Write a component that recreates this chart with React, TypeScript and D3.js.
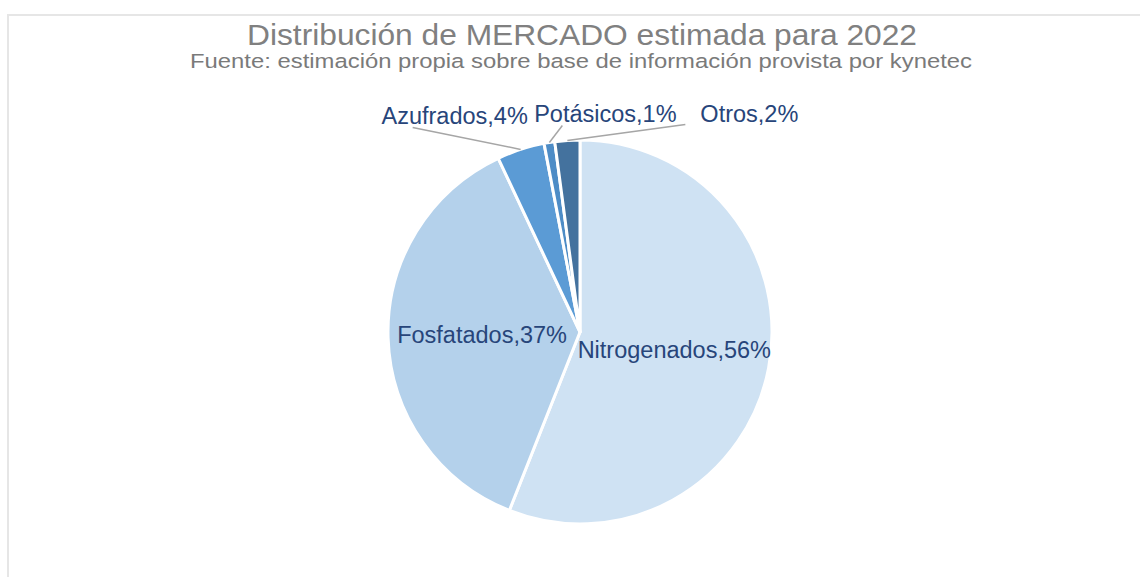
import React from "react";
import * as d3 from "d3";

const categories = ["Nitrogenados", "Fosfatados", "Azufrados", "Potásicos", "Otros"];
const values = [56.0, 37.0, 4.0, 0.9, 2.1];
const colors = ["#cfe2f3", "#b4d1eb", "#5b9bd5", "#4d8cc6", "#44729e"];

const TITLE = "Distribución de MERCADO estimada para 2022";
const SUBTITLE = "Fuente: estimación propia sobre base de información provista por kynetec";

const W = 1140;
const H = 577;
const CX = 580;
const CY = 332;
const R = 192;

// label layout: inside labels use centroid radius; outside labels use offsets from arc rim point
const labelLayout: Record<string, any> = {
  Nitrogenados: { inside: true, r: 96 },
  Fosfatados: { inside: true, r: 98 },
  Azufrados: { inside: false, dx: -66, dy: -33, lx: -108, ly: -22 },
  "Potásicos": { inside: false, dx: 56, dy: -28, lx: 13, ly: -17 },
  Otros: { inside: false, dx: 182, dy: -26, lx: 118, ly: -16 },
};

export default function App() {
  const data = categories.map((c, i) => ({ name: c, value: values[i], color: colors[i] }));
  const pie = d3.pie<any>().value((d) => d.value).sort(null);
  const arcs = pie(data);
  const arc = d3.arc<any>().innerRadius(0).outerRadius(R);
  const fmt = (v: number) => `${Math.round(v)}%`;
  const total = d3.sum(values);

  return (
    <svg
      width={W}
      height={H}
      style={{ position: "absolute", left: 0, top: 0, background: "#fff" }}
      fontFamily="'Liberation Sans', Arial, sans-serif"
    >
      <line x1={8} y1={15} x2={W} y2={15} stroke="#e6e6e6" strokeWidth={2} />
      <line x1={8} y1={14} x2={8} y2={H} stroke="#e6e6e6" strokeWidth={2} />
      <text x={582} y={45} textAnchor="middle" fontSize={30} fill="#808080" textLength={670} lengthAdjust="spacingAndGlyphs">
        {TITLE}
      </text>
      <text x={581} y={68} textAnchor="middle" fontSize={20.5} fill="#7a7a7a" textLength={782} lengthAdjust="spacingAndGlyphs">
        {SUBTITLE}
      </text>
      <g transform={`translate(${CX},${CY})`}>
        {arcs.map((a) => (
          <path key={a.data.name} d={arc(a) as string} fill={a.data.color} stroke="#fff" strokeWidth={3} strokeLinejoin="round" />
        ))}
        {arcs.map((a) => {
          const L = labelLayout[a.data.name];
          const mid = (a.startAngle + a.endAngle) / 2;
          const label = `${a.data.name},${fmt((a.data.value / total) * 100)}`;
          if (L.inside) {
            const x = Math.sin(mid) * L.r;
            const y = -Math.cos(mid) * L.r;
            return (
              <text key={a.data.name} x={x} y={y} textAnchor="middle" dominantBaseline="central" fontSize={23.5} fill="#27457a">
                {label}
              </text>
            );
          }
          const px = Math.sin(mid) * R;
          const py = -Math.cos(mid) * R;
          return (
            <g key={a.data.name}>
              <line x1={px + L.lx} y1={py + L.ly} x2={px} y2={py} stroke="#a6a6a6" strokeWidth={1.5} />
              <text x={px + L.dx} y={py + L.dy} textAnchor="middle" dominantBaseline="central" fontSize={23.5} fill="#27457a">
                {label}
              </text>
            </g>
          );
        })}
      </g>
    </svg>
  );
}
